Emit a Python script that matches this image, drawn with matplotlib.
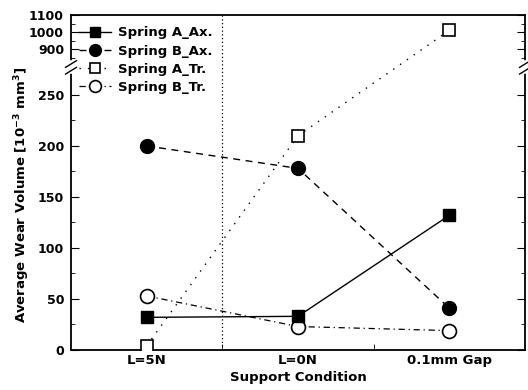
import numpy as np
import matplotlib.pyplot as plt
from matplotlib.lines import Line2D

conditions = ['L=5N', 'L=0N', '0.1mm Gap']
spring_a_ax = [32, 33, 132]
spring_b_ax = [200, 178, 41]
spring_a_tr = [4, 210, 1010]
spring_b_tr = [53, 23, 19]

x = np.arange(1, len(conditions) + 1)

# broken y axis: 0-276 normal, 798-1100 squeezed 6x
LO, HI, GAP, K = 276.0, 798.0, 2.0, 6.0


def fwd(v):
    v = np.asarray(v, dtype=float)
    mid = LO + (v - LO) * GAP / (HI - LO)
    top = LO + GAP + (v - HI) / K
    return np.where(v <= LO, v, np.where(v <= HI, mid, top))


def inv(u):
    u = np.asarray(u, dtype=float)
    mid = LO + (u - LO) * (HI - LO) / GAP
    top = HI + (u - LO - GAP) * K
    return np.where(u <= LO, u, np.where(u <= LO + GAP, mid, top))


plt.rcParams['font.family'] = 'DejaVu Sans'
plt.rcParams['font.weight'] = 'bold'
plt.rcParams['mathtext.default'] = 'bf'

fig = plt.figure(figsize=(5.28, 3.90), dpi=100)
ax = fig.add_axes([71 / 528, 1 - 350 / 390, 454 / 528, 335 / 390])
ax.set_yscale('function', functions=(fwd, inv))

ax.axvline(1.5, color='black', ls=(0, (1, 2)), lw=0.9, zorder=1)

ax.plot(x, spring_a_tr, color='black', ls=(0, (1, 5)), lw=1.0,
        marker='s', ms=8, mfc='white', mec='black', mew=1.2, label='Spring A_Tr.', zorder=3)
ax.plot(x, spring_b_tr, color='black', ls=(0, (5, 3, 1, 3)), lw=0.9,
        marker='o', ms=10, mfc='white', mec='black', mew=1.2, label='Spring B_Tr.', zorder=3)
ax.plot(x, spring_b_ax, color='black', ls=(0, (5, 4)), lw=1.0,
        marker='o', ms=10, mfc='black', mec='black', label='Spring B_Ax.', zorder=4)
ax.plot(x, spring_a_ax, color='black', ls='-', lw=1.0,
        marker='s', ms=8.5, mfc='black', mec='black', label='Spring A_Ax.', zorder=4)

ax.set_xlim(0.5, 3.5)
ax.set_ylim(0, 1100)
ax.set_xticks(x)
ax.set_xticklabels(conditions, fontsize=9.5, fontweight='bold')
ax.set_xticks([1.5, 2.5], minor=True)
ax.tick_params(axis='x', which='major', length=0, pad=3)
ax.tick_params(axis='x', which='minor', direction='in', length=4)

ax.set_yticks([0, 50, 100, 150, 200, 250, 900, 1000, 1100])
ax.set_yticks([25, 75, 125, 175, 225, 850, 950, 1050], minor=True)
ax.tick_params(axis='y', which='both', direction='in', right=True, labelsize=9)
ax.tick_params(axis='y', which='major', length=6, pad=5)
ax.tick_params(axis='y', which='minor', length=3)
for lab in ax.get_yticklabels():
    lab.set_fontweight('bold')

for s in ax.spines.values():
    s.set_linewidth(1.3)

# break marks on both side spines
yfrac = fwd(537.0) / fwd(1100.0)
for xs in (0.0, 1.0):
    ax.add_line(Line2D([xs, xs], [yfrac - 0.012, yfrac + 0.012], color='white',
                       lw=4, transform=ax.transAxes, clip_on=False, zorder=10))
    for off in (-0.01, 0.01):
        ax.add_line(Line2D([xs - 0.012, xs + 0.012], [yfrac + off - 0.01, yfrac + off + 0.01],
                           color='black', lw=1.0, transform=ax.transAxes, clip_on=False, zorder=11))

ax.set_xlabel('Support Condition', fontsize=9.5, fontweight='bold', labelpad=3)
fig.text(22 / 528, 0.5, 'Average Wear Volume [10$^{-3}$ mm$^{3}$]', rotation=90,
         ha='center', va='center', fontsize=9.5, fontweight='bold')

h, l = ax.get_legend_handles_labels()
order = [3, 2, 0, 1]
ax.legend([h[i] for i in order], [l[i] for i in order], loc='upper left',
          bbox_to_anchor=(0.0, 0.99), frameon=False,
          prop={'weight': 'bold', 'size': 9.5}, handlelength=2.4, labelspacing=0.4,
          handletextpad=0.6, borderaxespad=0.2, markerscale=0.85)

fig.savefig('out.png', dpi=100)
